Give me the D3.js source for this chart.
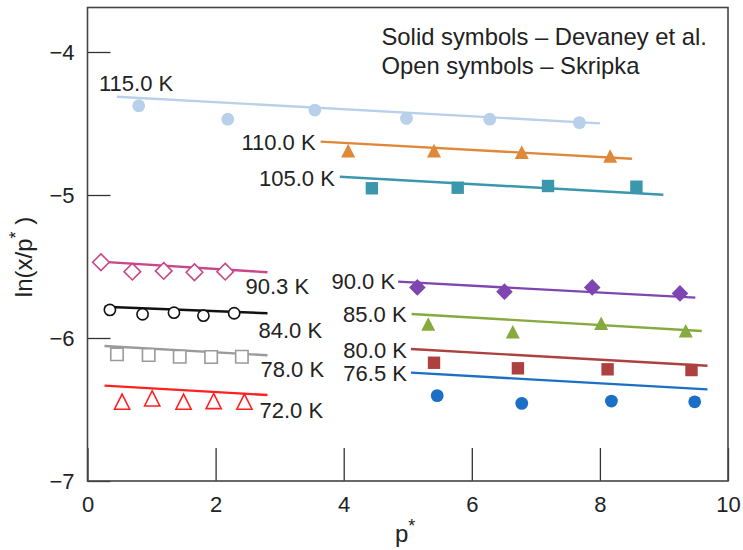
<!DOCTYPE html>
<html>
<head>
<meta charset="utf-8">
<script src="https://d3js.org/d3.v7.min.js"></script>
<style>
  body { margin: 0; background: #fff; }
  text { font-family: "Liberation Sans", Arial, sans-serif; fill: #222; }
</style>
</head>
<body>
<svg id="chart" width="743" height="550"></svg>
<script>
// series labels (temperatures)
const temps = ["115.0 K", "110.0 K", "105.0 K", "90.3 K", "84.0 K", "78.0 K", "72.0 K",
               "90.0 K", "85.0 K", "80.0 K", "76.5 K"];

// p* values of the measured points
const pStar = [
  [0.80, 2.19, 3.55, 4.98, 6.28, 7.68],
  [4.07, 5.41, 6.78, 8.16],
  [4.44, 5.78, 7.19, 8.57],
  [0.21, 0.70, 1.19, 1.67, 2.15],
  [0.35, 0.86, 1.35, 1.81, 2.29],
  [0.46, 0.955, 1.44, 1.93, 2.41],
  [0.54, 1.01, 1.50, 1.97, 2.45],
  [5.15, 6.51, 7.88, 9.25],
  [5.32, 6.64, 8.02, 9.34],
  [5.41, 6.72, 8.12, 9.43],
  [5.46, 6.78, 8.18, 9.48]
];

// ln(x/p*) of the measured points
const lnRatio = [
  [-4.376, -4.47, -4.406, -4.464, -4.47, -4.494],
  [-4.69, -4.69, -4.70, -4.727],
  [-4.953, -4.949, -4.937, -4.942],
  [-5.47, -5.536, -5.531, -5.54, -5.536],
  [-5.804, -5.834, -5.823, -5.844, -5.827],
  [-6.114, -6.119, -6.131, -6.133, -6.131],
  [-6.445, -6.422, -6.445, -6.441, -6.445],
  [-5.646, -5.676, -5.646, -5.688],
  [-5.902, -5.956, -5.897, -5.949],
  [-6.173, -6.212, -6.219, -6.224],
  [-6.403, -6.457, -6.441, -6.446]
];

// fitted lines: [p start, ln start, p end, ln end]
const fitLines = [
  [0.46, -4.313, 8.00, -4.499],
  [3.64, -4.627, 8.50, -4.746],
  [3.94, -4.872, 8.99, -4.998],
  [0.19, -5.466, 2.81, -5.540],
  [0.265, -5.781, 2.81, -5.827],
  [0.265, -6.056, 2.81, -6.121],
  [0.265, -6.333, 2.81, -6.399],
  [4.85, -5.606, 9.49, -5.718],
  [5.06, -5.832, 9.59, -5.951],
  [5.05, -6.077, 9.68, -6.194],
  [5.05, -6.242, 9.68, -6.359]
];

const xTicks = [0, 2, 4, 6, 8, 10];
const yTicks = [-4, -5, -6, -7];

// styling (kept apart from the data)
const colors = ["#b9d0ea", "#e0883a", "#3a97ad", "#c8468a", "#111111", "#9a9a9a", "#ff2020",
                "#7f45b2", "#86aa3e", "#ad413f", "#1b6fc6"];
const shapes = ["circle", "triangle", "square", "diamond", "circle", "square", "triangle",
                "diamond", "triangle", "square", "circle"];
const filled = [true, true, true, false, false, false, false, true, true, true, true];
// label placement: anchor, which end of the fit line, pixel offset
const labelPos = [
  ["start", 0, -18, -6], ["end", 0, -5, 8], ["end", 0, -5, 9],
  ["start", 1, -22, 22], ["start", 1, -9, 25], ["start", 1, -7, 22], ["start", 1, -8, 23],
  ["end", 0, -3, 7], ["end", 0, -5, 8], ["end", 0, -4, 9], ["end", 0, -4, 8]
];

const svg = d3.select("#chart");
const plotLeft = 87.5, plotRight = 728, plotTop = 7.5, plotBottom = 481;

const x = d3.scaleLinear().domain([0, 10]).range([plotLeft, plotRight]);
const y = d3.scaleLinear().domain([-7, -4]).range([plotBottom, 52]);

// axes, ticks pointing inward
svg.append("g")
  .attr("transform", `translate(0,${plotBottom})`)
  .call(d3.axisBottom(x).tickValues(xTicks).tickSizeInner(-33).tickSizeOuter(0).tickPadding(15))
  .call(g => g.select(".domain").remove())
  .call(g => g.selectAll("line").attr("stroke", "#333").attr("stroke-width", 1.3))
  .call(g => g.selectAll("text").style("font-size", "22px").attr("fill", "#222"));

svg.append("g")
  .attr("transform", `translate(${plotLeft},0)`)
  .call(d3.axisLeft(y).tickValues(yTicks).tickFormat(d3.format("d"))
    .tickSizeInner(-23).tickSizeOuter(0).tickPadding(13))
  .call(g => g.select(".domain").remove())
  .call(g => g.selectAll("line").attr("stroke", "#333").attr("stroke-width", 1.3))
  .call(g => g.selectAll("text").style("font-size", "22px").attr("fill", "#222"));

svg.append("rect")
  .attr("x", plotLeft).attr("y", plotTop)
  .attr("width", plotRight - plotLeft).attr("height", plotBottom - plotTop)
  .attr("fill", "none").attr("stroke", "#444").attr("stroke-width", 1.6);

// fit lines
svg.append("g").selectAll("line").data(fitLines).join("line")
  .attr("x1", d => x(d[0])).attr("y1", d => y(d[1]))
  .attr("x2", d => x(d[2])).attr("y2", d => y(d[3]))
  .attr("stroke", (d, i) => colors[i])
  .attr("stroke-width", 2.4);

function shapePath(type, open) {
  if (type === "circle") {
    const r = open ? 5.6 : 6.4;
    return `M${-r},0A${r},${r} 0 1,0 ${r},0A${r},${r} 0 1,0 ${-r},0Z`;
  }
  if (type === "square") {
    const h = 6.2;
    return `M${-h},${-h}H${h}V${h}H${-h}Z`;
  }
  if (type === "triangle") {
    const w = open ? 7.6 : 7, hgt = open ? 7.6 : 6.8;
    return `M0,${-hgt}L${w},${hgt}H${-w}Z`;
  }
  const d = 8.3;
  return `M0,${-d}L${d},0L0,${d}L${-d},0Z`;
}

// markers
temps.forEach((t, i) => {
  const pts = pStar[i].map((p, j) => [p, lnRatio[i][j]]);
  svg.append("g").selectAll("path").data(pts).join("path")
    .attr("transform", d => `translate(${x(d[0])},${y(d[1])})`)
    .attr("d", shapePath(shapes[i], !filled[i]))
    .attr("fill", filled[i] ? colors[i] : "#fff")
    .attr("stroke", colors[i])
    .attr("stroke-width", filled[i] ? 0 : 1.6);
});

// temperature labels
temps.forEach((t, i) => {
  const [anchor, end, dx, dy] = labelPos[i];
  const f = fitLines[i];
  const px = end === 0 ? x(f[0]) : x(f[2]);
  const py = end === 0 ? y(f[1]) : y(f[3]);
  svg.append("text")
    .attr("x", px + dx).attr("y", py + dy)
    .attr("text-anchor", anchor)
    .style("font-size", "22px")
    .text(t);
});

// legend note
svg.append("text").attr("x", 381.5).attr("y", 45).style("font-size", "23.8px")
  .text("Solid symbols \u2013 Devaney et al.");
svg.append("text").attr("x", 381.5).attr("y", 73.5).style("font-size", "23.8px")
  .text("Open symbols \u2013 Skripka");

// axis titles
svg.append("text")
  .attr("x", 395).attr("y", 542)
  .style("font-size", "24px")
  .text("p")
  .append("tspan").attr("dy", -10).style("font-size", "18px").text("*");

const yl = svg.append("text")
  .attr("transform", "translate(32,257) rotate(-90)")
  .attr("text-anchor", "middle")
  .style("font-size", "24px");
yl.append("tspan").text("ln(x/p");
yl.append("tspan").attr("dy", -10).style("font-size", "18px").text("*");
yl.append("tspan").attr("dy", 10).text(" )");
</script>
</body>
</html>
